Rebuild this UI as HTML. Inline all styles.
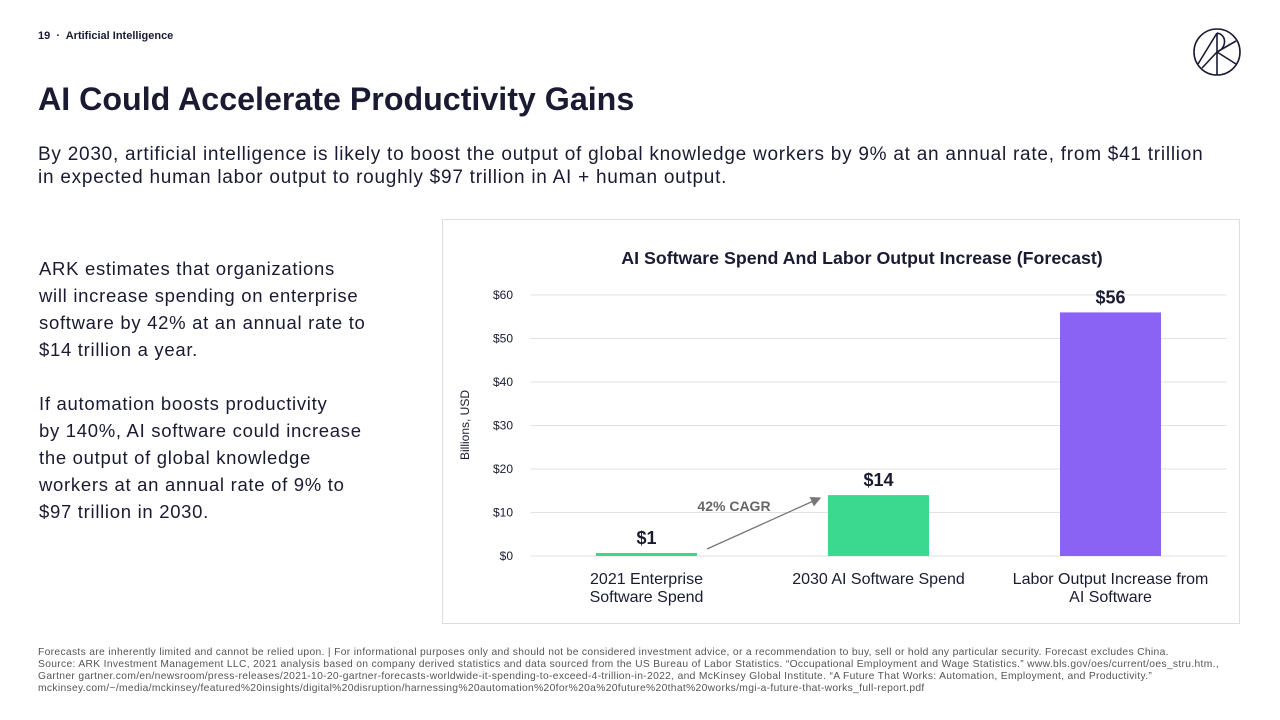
<!DOCTYPE html>
<html><head><meta charset="utf-8">
<style>
body{margin:0;width:1280px;height:720px;background:#fff;font-family:"Liberation Sans",sans-serif;color:#1a1a33;position:relative;overflow:hidden}
.abs{position:absolute}
</style></head>
<body>
<div class="abs" style="left:38px;top:30px;font-size:11px;font-weight:bold;color:#1a1a33">19 &nbsp;·&nbsp; Artificial Intelligence</div>
<svg class="abs" style="left:1192px;top:27px" width="50" height="50" viewBox="0 0 50 50">
<g fill="none" stroke="#1a1a33" stroke-width="1.6"><circle cx="25" cy="25" r="23"/><path d="M25 48V6 M6 37L25 6 M25 6C36 8 34 22 25 25 M25 25L44 14 M25 25L44 37 M10 41L25 25"/></g></svg>
<div class="abs" style="left:38px;top:81px;font-size:32.2px;font-weight:bold;white-space:nowrap">AI Could Accelerate Productivity Gains</div>
<div class="abs" style="left:38px;top:143px;font-size:19px;line-height:23px;letter-spacing:0.75px;white-space:nowrap">By 2030, artificial intelligence is likely to boost the output of global knowledge workers by 9% at an annual rate, from $41 trillion<br>in expected human labor output to roughly $97 trillion in AI + human output.</div>
<div class="abs" style="left:39px;top:255px;font-size:18.5px;line-height:27px;letter-spacing:0.7px;white-space:nowrap">ARK estimates that organizations<br>will increase spending on enterprise<br>software by 42% at an annual rate to<br>$14 trillion a year.<br><br>If automation boosts productivity<br>by 140%, AI software could increase<br>the output of global knowledge<br>workers at an annual rate of 9% to<br>$97 trillion in 2030.</div>
<div class="abs" style="left:442px;top:219px;width:798px;height:405px;border:1px solid #ddd;box-sizing:border-box"></div>
<svg id="chart" class="abs" style="left:0;top:0" width="1280" height="720"></svg>
<div class="abs" style="left:38px;top:647px;font-size:10.3px;line-height:12px;letter-spacing:0.32px;color:#555;white-space:nowrap">Forecasts are inherently limited and cannot be relied upon. | For informational purposes only and should not be considered investment advice, or a recommendation to buy, sell or hold any particular security. Forecast excludes China.<br>Source: ARK Investment Management LLC, 2021 analysis based on company derived statistics and data sourced from the US Bureau of Labor Statistics. “Occupational Employment and Wage Statistics.” www.bls.gov/oes/current/oes_stru.htm.,<br>Gartner gartner.com/en/newsroom/press-releases/2021-10-20-gartner-forecasts-worldwide-it-spending-to-exceed-4-trillion-in-2022, and McKinsey Global Institute. “A Future That Works: Automation, Employment, and Productivity.”<br>mckinsey.com/~/media/mckinsey/featured%20insights/digital%20disruption/harnessing%20automation%20for%20a%20future%20that%20works/mgi-a-future-that-works_full-report.pdf</div>
<script>
const categories=[["2021 Enterprise","Software Spend"],["2030 AI Software Spend"],["Labor Output Increase from","AI Software"]];
const values=[0.7,14,56];
const valueLabels=["$1","$14","$56"];
const colors=["#3bd88f","#3bd88f","#8a63f5"];
const ticks=[0,10,20,30,40,50,60];
const NS="http://www.w3.org/2000/svg",svg=document.getElementById("chart");
const x0=530.5,x1=1226.5,yb=556,yt=295,ymax=60;
const y=v=>yb-(yb-yt)*v/ymax;
const band=(x1-x0)/categories.length;
const xc=i=>x0+band*(i+0.5);
function mk(t,a,txt){const e=document.createElementNS(NS,t);for(const k in a)e.setAttribute(k,a[k]);if(txt!=null)e.textContent=txt;svg.appendChild(e);return e;}
let e=mk("text",{x:862,y:264,"text-anchor":"middle","font-size":17.8,"font-weight":"bold",fill:"#1a1a33"},"AI Software Spend And Labor Output Increase (Forecast)");


e=mk("text",{transform:"translate(469,425) rotate(-90)","text-anchor":"middle","font-size":12,fill:"#1a1a33"},"Billions, USD");


ticks.forEach(t=>{
 let g=mk("line",{x1:x0,x2:x1,y1:y(t),y2:y(t),stroke:"#e2e2e2","stroke-width":1});
 
 
 let l=mk("text",{x:513,y:y(t)+4,"text-anchor":"end","font-size":12,fill:"#1a1a33"},"$"+t);
 
 
});
values.forEach((v,i)=>{
 const w=101;
 let b=mk("rect",{x:xc(i)-w/2,y:y(v),width:w,height:yb-y(v),fill:colors[i]});
 
 
 let vl=mk("text",{x:xc(i),y:y(v)-9,"text-anchor":"middle","font-size":18,"font-weight":"bold",fill:"#1a1a33"},valueLabels[i]);
 
 
 categories[i].forEach((s,j)=>{
  let c=mk("text",{x:xc(i),y:584+j*18,"text-anchor":"middle","font-size":16,fill:"#1a1a33"},s);
  
  
 });
});
mk("defs",{}).innerHTML='<marker id="ah" markerWidth="8" markerHeight="8" refX="7" refY="4" orient="auto"><path d="M0,0L8,4L0,8z" fill="#777"/></marker>';
e=mk("line",{x1:707,y1:549,x2:820,y2:498,stroke:"#777","stroke-width":1.3,"marker-end":"url(#ah)"});


e=mk("text",{x:734,y:511,"text-anchor":"middle","font-size":14,"font-weight":"bold",fill:"#666"},"42% CAGR");


</script>
</body></html>
